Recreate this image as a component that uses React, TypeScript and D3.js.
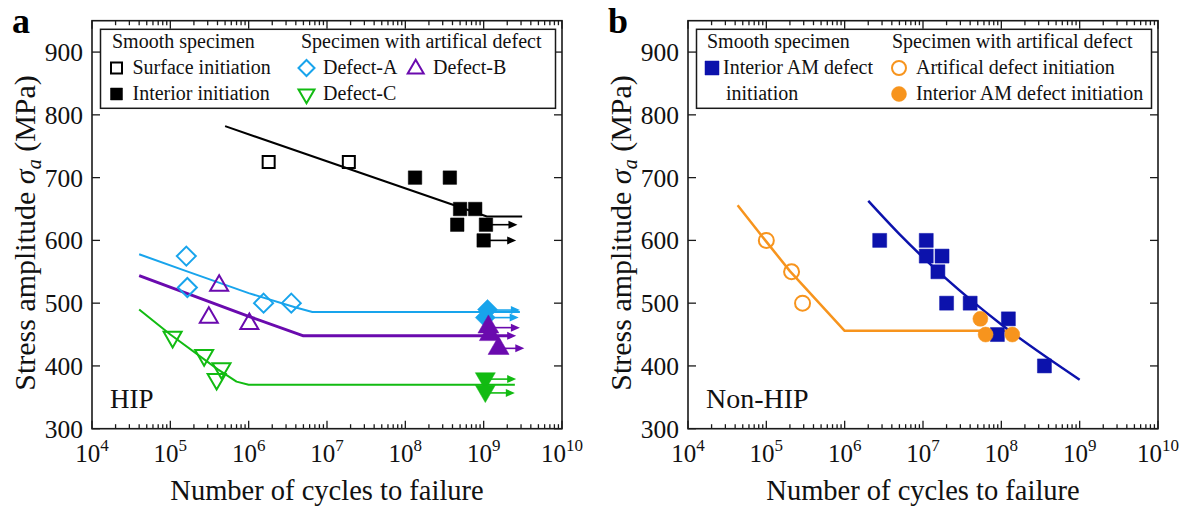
import React from 'react';
import * as d3 from 'd3';

// ---------------- data ----------------
const xTickExponents = [4, 5, 6, 7, 8, 9, 10];
const yTickValues = [300, 400, 500, 600, 700, 800, 900];
const X_DOMAIN = [1e4, 1e10];
const Y_DOMAIN = [300, 950];

// Panel a (HIP)
const hipSurfaceN = [1.8e6, 1.9e7];
const hipSurfaceS = [725, 725];
const hipInteriorN = [1.33e8, 3.7e8, 5.0e8, 7.8e8, 4.6e8, 1.07e9, 1.0e9];
const hipInteriorS = [700, 700, 650, 650, 625, 625, 600];
const hipSmoothFitN = [5e5, 1.1e9, 3.1e9];
const hipSmoothFitS = [782, 638, 638];
const hipSmoothRunFromN = [1.07e9, 1.0e9];
const hipSmoothRunToN = [2.7e9, 2.6e9];
const hipSmoothRunS = [625, 600];

const defectAOpenN = [1.6e5, 1.65e5, 1.55e6, 3.5e6];
const defectAOpenS = [575, 525, 500, 500];
const defectAFilledN = [1.12e9, 1.05e9];
const defectAFilledS = [490, 477];
const defectAFitN = [4e4, 1.6e5, 1e6, 4e6, 6.5e6, 2.9e9];
const defectAFitS = [578, 551, 516, 493, 486, 486];
const defectARunFromN = [1.12e9, 1.05e9];
const defectARunToN = [2.9e9, 2.8e9];
const defectARunS = [489, 477];

const defectBOpenN = [4.2e5, 3.1e5, 1.02e6];
const defectBOpenS = [528, 477, 467];
const defectBFilledN = [1.15e9, 1.2e9, 1.55e9];
const defectBFilledS = [462, 450, 428];
const defectBFitN = [4e4, 1e6, 5e6, 2.3e9];
const defectBFitS = [544, 479, 448, 448];
const defectBRunFromN = [1.15e9, 1.2e9, 1.55e9];
const defectBRunToN = [2.9e9, 2.6e9, 3.3e9];
const defectBRunS = [461, 448, 428];

const defectCOpenN = [1.07e5, 2.7e5, 4.5e5, 3.9e5];
const defectCOpenS = [446, 417, 396, 379];
const defectCFilledN = [1.05e9, 1.05e9];
const defectCFilledS = [380, 360];
const defectCFitN = [4e4, 1e5, 4e5, 7e5, 1e6, 2.5e9];
const defectCFitS = [490, 450, 395, 375, 370, 370];
const defectCRunFromN = [1.05e9, 1.05e9];
const defectCRunToN = [2.6e9, 2.5e9];
const defectCRunS = [379, 357];

// Panel b (Non-HIP)
const nonHipSmoothN = [2.8e6, 1.1e7, 1.1e7, 1.75e7, 1.55e7, 2.0e7, 4.0e7, 1.23e8, 8.9e7, 3.55e8];
const nonHipSmoothS = [600, 600, 575, 575, 550, 500, 500, 475, 450, 400];
const nonHipSmoothFitN = [2e6, 5e6, 1e7, 4e7, 1e8, 1e9];
const nonHipSmoothFitS = [663, 610, 573, 506, 466, 378];
const nonHipArtificialN = [1.0e5, 2.1e5, 2.9e5];
const nonHipArtificialS = [600, 550, 500];
const nonHipInteriorN = [5.4e7, 6.3e7, 1.38e8];
const nonHipInteriorS = [475, 450, 450];
const nonHipDefectFitN = [4.3e4, 1e5, 2e5, 1e6, 1.3e8];
const nonHipDefectFitS = [656, 598, 551, 456, 456];

// ---------------- styles ----------------
const FONT = "'Liberation Serif', 'Times New Roman', Times, serif";
const LIGHTBLUE = '#18a4ec';
const PURPLE = '#6a0aae';
const GREEN = '#12bb12';
const BLUE = '#0c12ac';
const ORANGE = '#f7941d';

const TOP = 20.7;
const BOTTOM = 428.7;
const PW = 470;

type Shape = 'square' | 'diamond' | 'triUp' | 'triDown' | 'circle';

function shapePath(shape: Shape, size: number): string {
  const h = size / 2;
  if (shape === 'square') return `M${-h},${-h}H${h}V${h}H${-h}Z`;
  if (shape === 'diamond') return `M0,${-h}L${h},0L0,${h}L${-h},0Z`;
  const a = size * 0.577;
  const b = size * 0.289;
  if (shape === 'triUp') return `M0,${-a}L${h},${b}L${-h},${b}Z`;
  if (shape === 'triDown') return `M0,${a}L${h},${-b}L${-h},${-b}Z`;
  return d3.arc()({ innerRadius: 0, outerRadius: h, startAngle: 0, endAngle: 2 * Math.PI } as any) || '';
}

function Marker({ x, y, shape, size, color, filled, sw = 2 }: any) {
  return (
    <path
      transform={`translate(${x},${y})`}
      d={shapePath(shape, size)}
      fill={filled ? color : 'none'}
      stroke={color}
      strokeWidth={filled ? 0.5 : sw}
    />
  );
}

interface SeriesSpec { n: number[]; s: number[]; shape: Shape; size: number; color: string; filled: boolean; }
interface LineSpec { n: number[]; s: number[]; color: string; width: number; smooth?: boolean; }
interface ArrowSpec { from: number[]; to: number[]; s: number[]; color: string; }

function Panel({ x0, lines, series, arrows, tag, note, legend }: any) {
  const xs = d3.scaleLog().domain(X_DOMAIN).range([x0, x0 + PW]);
  const ys = d3.scaleLinear().domain(Y_DOMAIN).range([BOTTOM, TOP]);
  const ticks = xs.ticks();
  const isMajor = (t: number) => Math.abs(Math.log10(t) - Math.round(Math.log10(t))) < 1e-9;
  const makeLine = (smooth: boolean) =>
    d3
      .line<[number, number]>()
      .x((d) => xs(d[0]))
      .y((d) => ys(d[1]))
      .curve(smooth ? d3.curveMonotoneX : d3.curveLinear);

  return (
    <g>
      {lines.map((l: LineSpec, i: number) => (
        <path
          key={'l' + i}
          d={makeLine(!!l.smooth)(l.n.map((n, j) => [n, l.s[j]] as [number, number])) || ''}
          fill="none"
          stroke={l.color}
          strokeWidth={l.width}
          strokeLinejoin="round"
        />
      ))}
      {arrows.map((a: ArrowSpec, i: number) =>
        a.s.map((s, j) => {
          const x1 = xs(a.from[j]);
          const x2 = xs(a.to[j]);
          const y = ys(s);
          return (
            <g key={'a' + i + '-' + j}>
              <line x1={x1} x2={x2 - 7} y1={y} y2={y} stroke={a.color} strokeWidth={1.6} />
              <path d={`M${x2},${y}L${x2 - 9},${y - 4}L${x2 - 9},${y + 4}Z`} fill={a.color} />
            </g>
          );
        })
      )}
      {series.map((sr: SeriesSpec, i: number) =>
        sr.n.map((n, j) => (
          <Marker
            key={'m' + i + '-' + j}
            x={xs(n)}
            y={ys(sr.s[j])}
            shape={sr.shape}
            size={sr.size}
            color={sr.color}
            filled={sr.filled}
          />
        ))
      )}

      <rect x={x0} y={TOP} width={PW} height={BOTTOM - TOP} fill="none" stroke="#1a1a1a" strokeWidth={1.6} />
      {ticks.map((t, i) => {
        const x = xs(t);
        const len = isMajor(t) ? 8 : 4.5;
        return (
          <g key={'xt' + i} stroke="#1a1a1a" strokeWidth={1.3}>
            <line x1={x} x2={x} y1={BOTTOM} y2={BOTTOM - len} />
            <line x1={x} x2={x} y1={TOP} y2={TOP + len} />
          </g>
        );
      })}
      {yTickValues.map((v) => (
        <g key={'yt' + v} stroke="#1a1a1a" strokeWidth={1.3}>
          <line x1={x0} x2={x0 + 8} y1={ys(v)} y2={ys(v)} />
          <line x1={x0 + PW} x2={x0 + PW - 8} y1={ys(v)} y2={ys(v)} />
        </g>
      ))}
      {xTickExponents.map((e) => (
        <text key={'xl' + e} x={xs(Math.pow(10, e))} y={462} textAnchor="middle" fontSize={25} fontFamily={FONT} fill="#111">
          <tspan>10</tspan>
          <tspan dy={-11} fontSize={17}>{e}</tspan>
        </text>
      ))}
      {yTickValues.map((v) => (
        <text key={'yl' + v} x={x0 - 9} y={ys(v)} dy="0.35em" textAnchor="end" fontSize={25.5} fontFamily={FONT} fill="#111">
          {v}
        </text>
      ))}
      <text x={x0 + PW / 2} y={500} textAnchor="middle" fontSize={28.5} fontFamily={FONT} fill="#111">
        Number of cycles to failure
      </text>
      <text transform={`translate(${x0 - 57},233) rotate(-90)`} textAnchor="middle" fontSize={30} fontFamily={FONT} fill="#111">
        {'Stress amplitude '}
        <tspan fontStyle="italic">σ</tspan>
        <tspan fontStyle="italic" fontSize={20} dy={6}>a</tspan>
        <tspan dy={-6}>{' (MPa)'}</tspan>
      </text>
      <text x={x0 - 80} y={33} fontSize={36} fontWeight="bold" fontFamily={FONT} fill="#000">
        {tag}
      </text>
      <text x={x0 + note.dx} y={408} fontSize={note.size} fontFamily={FONT} fill="#111">
        {note.text}
      </text>
      <rect x={x0 + 8.5} y={29.3} width={455} height={79} fill="white" stroke="#1a1a1a" strokeWidth={1.5} />
      {legend.texts.map((t: any, i: number) => (
        <text key={'lt' + i} x={x0 + t.dx} y={t.y} fontSize={20} fontFamily={FONT} fill="#111">
          {t.text}
        </text>
      ))}
      {legend.markers.map((m: any, i: number) => (
        <Marker key={'lm' + i} x={x0 + m.dx} y={m.y} shape={m.shape} size={m.size} color={m.color} filled={m.filled} />
      ))}
    </g>
  );
}

export default function App() {
  const panelA = {
    x0: 92,
    tag: 'a',
    note: { text: 'HIP', dx: 18, size: 27 },
    lines: [
      { n: hipSmoothFitN, s: hipSmoothFitS, color: '#000', width: 2 },
      { n: defectAFitN, s: defectAFitS, color: LIGHTBLUE, width: 2 },
      { n: defectBFitN, s: defectBFitS, color: PURPLE, width: 3 },
      { n: defectCFitN, s: defectCFitS, color: GREEN, width: 2 },
    ],
    arrows: [
      { from: hipSmoothRunFromN, to: hipSmoothRunToN, s: hipSmoothRunS, color: '#000' },
      { from: defectARunFromN, to: defectARunToN, s: defectARunS, color: LIGHTBLUE },
      { from: defectBRunFromN, to: defectBRunToN, s: defectBRunS, color: PURPLE },
      { from: defectCRunFromN, to: defectCRunToN, s: defectCRunS, color: GREEN },
    ],
    series: [
      { n: hipSurfaceN, s: hipSurfaceS, shape: 'square', size: 12, color: '#000', filled: false },
      { n: hipInteriorN, s: hipInteriorS, shape: 'square', size: 13.5, color: '#000', filled: true },
      { n: defectAOpenN, s: defectAOpenS, shape: 'diamond', size: 19, color: LIGHTBLUE, filled: false },
      { n: defectAFilledN, s: defectAFilledS, shape: 'diamond', size: 20, color: LIGHTBLUE, filled: true },
      { n: defectBOpenN, s: defectBOpenS, shape: 'triUp', size: 18, color: PURPLE, filled: false },
      { n: defectBFilledN, s: defectBFilledS, shape: 'triUp', size: 21, color: PURPLE, filled: true },
      { n: defectCOpenN, s: defectCOpenS, shape: 'triDown', size: 18, color: GREEN, filled: false },
      { n: defectCFilledN, s: defectCFilledS, shape: 'triDown', size: 20, color: GREEN, filled: true },
    ],
    legend: {
      texts: [
        { text: 'Smooth specimen', dx: 20, y: 48 },
        { text: 'Surface initiation', dx: 40.5, y: 74 },
        { text: 'Interior initiation', dx: 40.5, y: 100 },
        { text: 'Specimen with artifical defect', dx: 209, y: 48 },
        { text: 'Defect-A', dx: 231, y: 74 },
        { text: 'Defect-B', dx: 341, y: 74 },
        { text: 'Defect-C', dx: 231, y: 100 },
      ],
      markers: [
        { dx: 24.5, y: 68, shape: 'square', size: 11, color: '#000', filled: false },
        { dx: 24.5, y: 94, shape: 'square', size: 12, color: '#000', filled: true },
        { dx: 214.5, y: 68, shape: 'diamond', size: 16, color: LIGHTBLUE, filled: false },
        { dx: 323.7, y: 69, shape: 'triUp', size: 16, color: PURPLE, filled: false },
        { dx: 214.5, y: 94, shape: 'triDown', size: 16, color: GREEN, filled: false },
      ],
    },
  };

  const panelB = {
    x0: 688,
    tag: 'b',
    note: { text: 'Non-HIP', dx: 18, size: 28 },
    lines: [
      { n: nonHipDefectFitN, s: nonHipDefectFitS, color: ORANGE, width: 2.5 },
      { n: nonHipSmoothFitN, s: nonHipSmoothFitS, color: BLUE, width: 2.5, smooth: true },
    ],
    arrows: [],
    series: [
      { n: nonHipSmoothN, s: nonHipSmoothS, shape: 'square', size: 14, color: BLUE, filled: true },
      { n: nonHipArtificialN, s: nonHipArtificialS, shape: 'circle', size: 15, color: ORANGE, filled: false },
      { n: nonHipInteriorN, s: nonHipInteriorS, shape: 'circle', size: 15, color: ORANGE, filled: true },
    ],
    legend: {
      texts: [
        { text: 'Smooth specimen', dx: 19, y: 48 },
        { text: 'Interior AM defect', dx: 35, y: 74 },
        { text: 'initiation', dx: 38, y: 100 },
        { text: 'Specimen with artifical defect', dx: 204, y: 48 },
        { text: 'Artifical defect initiation', dx: 228, y: 74 },
        { text: 'Interior AM defect initiation', dx: 228, y: 100 },
      ],
      markers: [
        { dx: 24, y: 68, shape: 'square', size: 14, color: BLUE, filled: true },
        { dx: 211, y: 68, shape: 'circle', size: 14, color: ORANGE, filled: false },
        { dx: 211, y: 94, shape: 'circle', size: 15, color: ORANGE, filled: true },
      ],
    },
  };

  return (
    <svg
      width={1184}
      height={508}
      viewBox="0 0 1184 508"
      style={{ position: 'absolute', left: 0, top: 0, background: '#fff' }}
    >
      <rect x={0} y={0} width={1184} height={508} fill="#fff" />
      <Panel {...panelA} />
      <Panel {...panelB} />
    </svg>
  );
}
